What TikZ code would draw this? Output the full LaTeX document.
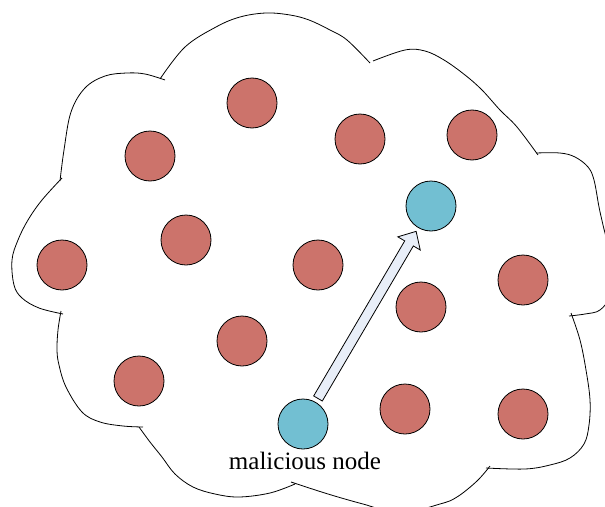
\documentclass[tikz,border=0pt]{standalone}
\usepackage{fontspec}
\setmainfont{Liberation Serif}
\usetikzlibrary{calc}
\definecolor{peer}{RGB}{204,115,107}
\definecolor{rogue}{RGB}{114,191,210}
\definecolor{msgfill}{RGB}{232,238,248}
\tikzset{
  peernode/.style={circle, draw=black, line width=0.8pt, fill=peer, minimum size=50pt, inner sep=0pt},
  roguenode/.style={peernode, fill=rogue},
  bump/.style={draw=black, line width=0.8pt, line join=round},
  msgarrow/.style={draw=black, line width=0.8pt, fill=msgfill, line join=miter},
  caption/.style={font=\fontsize{25}{29}\selectfont, inner sep=0pt}
}
\begin{document}
\begin{tikzpicture}[x=1pt, y=-1pt]
\clip (0,0) rectangle (605,506);

% cloud outline, one bump at a time
\draw[bump] plot[smooth, tension=0.6] coordinates {(60,181) (64,150) (71,112) (85,88) (105,76) (127,73) (145,74) (165,80)};
\draw[bump] plot[smooth, tension=0.6] coordinates {(160,79) (185,47) (216,27) (240,17) (266,13) (290,15) (309,20) (330,30) (347,40) (370,63)};
\draw[bump] plot[smooth, tension=0.6] coordinates {(373,61) (405,50) (425,51) (444,60) (465,75) (482,90) (500,110) (517,127) (538,155)};
\draw[bump] plot[smooth, tension=0.6] coordinates {(536,153) (560,153) (575,157) (588,167) (594,180) (599,207) (603,225) (612,265) (610,295) (600,310) (585,314) (569,316)};
\draw[bump] plot[smooth, tension=0.6] coordinates {(571,313) (580,340) (586,370) (590,400) (589,425) (584,444) (570,458) (550,465) (525,469) (486,468)};
\draw[bump] plot[smooth, tension=0.6] coordinates {(490,466) (477,481) (457,497) (440,504) (400,513) (363,504) (328,494) (291,482)};
\draw[bump] plot[smooth, tension=0.6] coordinates {(295,484) (270,493) (239,497) (215,494) (193,487) (175,474) (162,457) (150,442) (139,427)};
\draw[bump] plot[smooth, tension=0.6] coordinates {(143,427) (123,426) (100,422) (82,412) (66,387) (59,365) (57,350) (58,330) (61,311)};
\draw[bump] plot[smooth, tension=0.6] coordinates {(63,314) (39,308) (22,298) (14,285) (12,260) (18,240) (28,220) (42,200) (62,178)};

% peers
\node[peernode] (n1)  at (252,103) {};
\node[peernode] (n2)  at (150,156) {};
\node[peernode] (n3)  at (360,139) {};
\node[peernode] (n4)  at (472,135) {};
\node[peernode] (n5)  at (186,240) {};
\node[peernode] (n6)  at (62,265) {};
\node[peernode] (n7)  at (318,265) {};
\node[peernode] (n8)  at (523,280) {};
\node[peernode] (n9)  at (421,307) {};
\node[peernode] (n10) at (242,341) {};
\node[peernode] (n11) at (139,381) {};
\node[peernode] (n12) at (405,409) {};
\node[peernode] (n13) at (523,414) {};

% malicious node and its target
\node[roguenode] (t) at (431,206) {};
\node[roguenode] (m) at (303,424) {};
\node[caption, anchor=base] (lbl) at ($(m)+(2,45)$) {malicious node};

% block arrow from the malicious node to the target
\coordinate (s) at ($(m)!29.6pt!(t)$);
\coordinate (e) at ($(t)!29.4pt!(m)$);
\coordinate (h) at ($(e)!14pt!(s)$);
\draw[msgarrow] ($(s)!5pt!90:(e)$) -- ($(h)!5pt!-90:(s)$) -- ($(h)!13pt!-90:(s)$) -- (e)
  -- ($(h)!13pt!90:(s)$) -- ($(h)!5pt!90:(s)$) -- ($(s)!5pt!-90:(e)$) -- cycle;
\end{tikzpicture}
\end{document}
